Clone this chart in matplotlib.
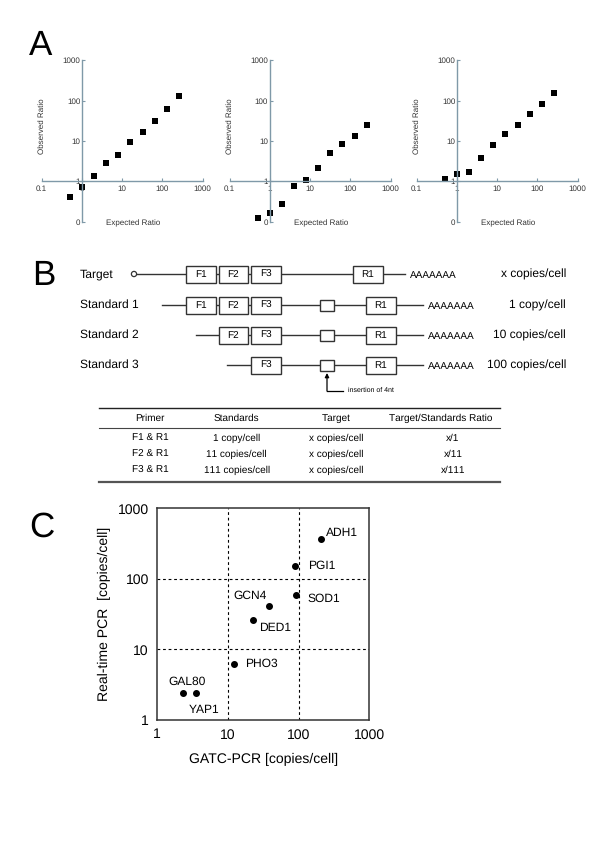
import matplotlib
matplotlib.use('Agg')
import matplotlib.pyplot as plt
from matplotlib.patches import Rectangle, Circle

plt.rcParams['font.family'] = ['Liberation Sans', 'DejaVu Sans']
plt.rcParams['text.hinting'] = 'no_hinting'
plt.rcParams['text.hinting_factor'] = 1

W, H = 600, 848

# ---- panel A data ----
expected = [0.5, 1, 2, 4, 8, 16, 32, 64, 128, 256]
observed = [
    [0.42, 0.71, 1.38, 2.9, 4.6, 9.6, 16.7, 31.5, 61, 134],
    [0.125, 0.166, 0.28, 0.78, 1.1, 2.2, 5.0, 8.6, 13.6, 24.6],
    [1.17, 1.52, 1.74, 3.9, 7.9, 14.8, 25, 47, 83, 158],
]
a_ticks = [0.1, 1, 10, 100, 1000]
a_xlabels = ['0.1', '1', '10', '100', '1000']
a_ylabels = ['0', '1', '10', '100', '1000']

# ---- panel B data ----
rows = ['Target', 'Standard 1', 'Standard 2', 'Standard 3']
row_frags = [['F1', 'F2', 'F3'], ['F1', 'F2', 'F3'], ['F2', 'F3'], ['F3']]
copies = ['x copies/cell', '1 copy/cell', '10 copies/cell', '100 copies/cell']
tbl_header = ['Primer', 'Standards', 'Target', 'Target/Standards Ratio']
tbl_primer = ['F1 & R1', 'F2 & R1', 'F3 & R1']
tbl_standards = ['1 copy/cell', '11 copies/cell', '111 copies/cell']
tbl_target = ['x copies/cell', 'x copies/cell', 'x copies/cell']
tbl_ratio = ['x/1', 'x/11', 'x/111']

# ---- panel C data ----
genes = ['GAL80', 'YAP1', 'PHO3', 'DED1', 'GCN4', 'PGI1', 'SOD1', 'ADH1']
gatc = [2.33, 3.49, 12.2, 22.8, 38, 88, 91.6, 207]
rtpcr = [2.39, 2.39, 6.3, 26.5, 41.4, 151, 60, 366]


def px_rect(left, top, right, bottom):
    return [left / W, 1 - bottom / H, (right - left) / W, (bottom - top) / H]


fig = plt.figure(figsize=(6, 8.48), dpi=100)

# background axes in pixel coords for letters + schematic
bg = fig.add_axes([0, 0, 1, 1], zorder=0)
bg.set_xlim(0, W)
bg.set_ylim(H, 0)
bg.axis('off')

for letter, x, y in [('A', 29, 55), ('B', 32, 285), ('C', 29, 537)]:
    bg.text(x, y, letter, fontsize=25, va='baseline', ha='left')

# ---- panel A ----
axcol = '#7f99a8'
a_left = [41.7, 229.5, 416.7]
for i, obs in enumerate(observed):
    ax = fig.add_axes(px_rect(a_left[i], 60.5, a_left[i] + 161, 221.7), zorder=2)
    ax.patch.set_alpha(0)
    ax.set_xscale('log')
    ax.set_yscale('log')
    ax.set_xlim(0.1, 1000)
    ax.set_ylim(0.1, 1000)
    ax.plot(expected, obs, 's', color='black', ms=3.8, mew=0, clip_on=False)
    for s in ['top', 'right']:
        ax.spines[s].set_visible(False)
    ax.spines['left'].set_position(('data', 1))
    ax.spines['bottom'].set_position(('data', 1))
    for s in ['left', 'bottom']:
        ax.spines[s].set_color(axcol)
        ax.spines[s].set_linewidth(1.0)
    ax.set_xticks(a_ticks)
    ax.set_xticklabels(a_xlabels)
    ax.set_yticks(a_ticks)
    ax.set_yticklabels(a_ylabels)
    ax.minorticks_off()
    ax.tick_params(axis='both', direction='in', length=2.5, color=axcol,
                   labelsize=5.8, labelcolor='#333333', width=0.8)
    ax.tick_params(axis='x', pad=3)
    ax.tick_params(axis='y', pad=1.2)
    ax.text(0.0, 0.59, 'Observed Ratio', transform=ax.transAxes, rotation=90,
            ha='center', va='center', fontsize=5.9, color='#333333')
    ax.text(0.57, -0.01, 'Expected Ratio', transform=ax.transAxes,
            ha='center', va='center', fontsize=5.9, color='#333333')

# ---- panel B schematic ----
lc = '#333333'
row_y = [274, 305, 335, 365]
frag_x = {'F1': 186, 'F2': 218.5, 'F3': 251}
box_w, box_h = 29.5, 17
line_start = [137, 162, 196, 227]
for i, name in enumerate(rows):
    y = row_y[i]
    bg.text(80, y, name, fontsize=8.5, ha='left', va='center')
    if i == 0:
        bg.add_patch(Circle((134, y), 2.6, fill=False, ec=lc, lw=0.9))
        r1_left, poly_x, line_end = 353, 410, 405
    else:
        r1_left, poly_x, line_end = 366, 428, 423
    bg.plot([line_start[i], line_end], [y, y], color=lc, lw=1.0, zorder=1)
    for f in row_frags[i]:
        bg.add_patch(Rectangle((frag_x[f], y - box_h / 2), box_w, box_h,
                               fc='white', ec=lc, lw=1.0, zorder=2))
        bg.text(frag_x[f] + box_w / 2, y, f, fontsize=7, ha='center', va='center', zorder=3)
    if i > 0:
        bg.add_patch(Rectangle((320, y - 5.5), 14, 11, fc='white', ec=lc, lw=1.0, zorder=2))
    bg.add_patch(Rectangle((r1_left, y - box_h / 2), 30, box_h,
                           fc='white', ec=lc, lw=1.0, zorder=2))
    bg.text(r1_left + 15, y, 'R1', fontsize=7, ha='center', va='center', zorder=3)
    bg.text(poly_x, y + 1, 'AAAAAAA', fontsize=7, ha='left', va='center', zorder=3)
    bg.text(566, y, copies[i], fontsize=8.7, ha='right', va='center')

bg.annotate('', xy=(327, 373), xytext=(327, 391),
            arrowprops=dict(arrowstyle='-|>', color='black', lw=0.9,
                            mutation_scale=6, shrinkA=0, shrinkB=0))
bg.plot([327, 343], [390.5, 390.5], color='black', lw=0.9)
bg.text(348, 390.5, 'insertion of 4nt', fontsize=5.3, ha='left', va='center')

# table
t_left, t_right = 99, 500
bg.plot([t_left, t_right], [408.3, 408.3], color='#222222', lw=1.0)
bg.plot([t_left, t_right], [428.3, 428.3], color='#444444', lw=0.8)
bg.plot([t_left, t_right], [481.7, 481.7], color='#555555', lw=1.6)
hdr_x = [150, 236.7, 336.7, 441]
for hx, h in zip(hdr_x, tbl_header):
    bg.text(hx, 418.3, h, fontsize=7, ha='center', va='center')
col_x = [150, 236.7, 336.7, 453]
tbl_y = [438.3, 454.3, 470]
for j, col in enumerate([tbl_primer, tbl_standards, tbl_target, tbl_ratio]):
    for k, val in enumerate(col):
        bg.text(col_x[j], tbl_y[k], val, fontsize=7, ha='center', va='center')

# ---- panel C ----
axc = fig.add_axes(px_rect(157.3, 508.3, 369.3, 720), zorder=2)
axc.set_xscale('log')
axc.set_yscale('log')
axc.set_xlim(1, 1000)
axc.set_ylim(1, 1000)
for v in [10, 100]:
    axc.axvline(v, color='black', lw=0.8, ls=(0, (2.5, 2.5)))
    axc.axhline(v, color='black', lw=0.8, ls=(0, (2.5, 2.5)))
axc.plot(gatc, rtpcr, 'o', color='black', ms=4, zorder=3)
offsets = {
    'GAL80': (4, 12, 'center'), 'YAP1': (8, -17, 'center'),
    'PHO3': (11, 0, 'left'), 'DED1': (6, -8, 'left'),
    'GCN4': (-2, 10, 'right'), 'PGI1': (13, 0, 'left'),
    'SOD1': (12, -4, 'left'), 'ADH1': (5, 6, 'left'),
}
for g, gx, gy in zip(genes, gatc, rtpcr):
    dx, dy, ha = offsets[g]
    axc.annotate(g, (gx, gy), xytext=(dx * 0.72, dy * 0.72), textcoords='offset points',
                 ha=ha, va='center', fontsize=8.6)
axc.set_xticks([1, 10, 100, 1000])
axc.set_xticklabels(['1', '10', '100', '1000'])
axc.set_yticks([1, 10, 100, 1000])
axc.set_yticklabels(['1', '10', '100', '1000'])
axc.minorticks_off()
axc.tick_params(length=0, labelsize=10, pad=6)
for s in axc.spines.values():
    s.set_color('#333333')
    s.set_linewidth(1.1)
axc.set_xlabel('GATC-PCR [copies/cell]', fontsize=10, labelpad=8)
axc.set_ylabel('Real-time PCR  [copies/cell]', fontsize=10, labelpad=5)

fig.savefig('out.png', dpi=100)
